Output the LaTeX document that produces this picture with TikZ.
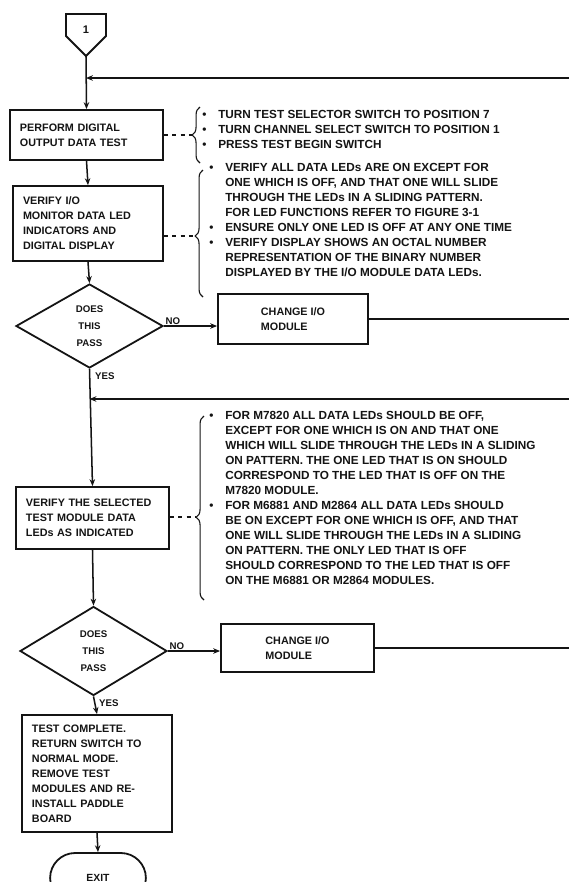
\documentclass[tikz,border=0pt]{standalone}
\usepackage{fontspec}
\setmainfont{Liberation Sans}
\usepackage{tikz}
\usetikzlibrary{arrows.meta,shapes.geometric,shapes.misc,decorations.pathreplacing,calc}
\definecolor{inkBlack}{RGB}{20,20,20}
\newcommand{\pxl}{0.0254cm}
\newcommand{\bul}{\leavevmode\llap{\textbullet\hspace{0.3cm}}}

\begin{document}
\begin{tikzpicture}[x=0.0254cm, y=-0.0254cm, text=inkBlack,
  flow/.style={draw=inkBlack, line width=1.1pt},
  entry/.style={flow, -{Stealth[length=5pt,width=4pt]}},
  procbox/.style={draw=inkBlack, line width=1.3pt, align=left, inner xsep=10*\pxl, inner ysep=0pt, font=\fontsize{7.8}{10.8}\selectfont\bfseries},
  chgbox/.style={draw=inkBlack, line width=1.3pt, align=left, minimum height=50*\pxl, font=\fontsize{7.8}{10.8}\selectfont\bfseries},
  decision/.style={draw=inkBlack, diamond, line width=1.3pt, inner sep=0pt, minimum width=147*\pxl, align=center, font=\fontsize{7}{12.5}\selectfont\bfseries},
  terminal/.style={draw=inkBlack, rounded rectangle, line width=1.3pt, minimum width=105*\pxl, minimum height=50*\pxl, font=\fontsize{7.5}{9}\selectfont\bfseries},
  notes/.style={anchor=north west, inner sep=0pt, align=left, font=\fontsize{8.5}{10.8}\selectfont\bfseries},
  bracket/.style={draw=inkBlack, line width=0.8pt, decorate, decoration={brace, amplitude=0.2cm}},
  answer/.style={inner sep=1pt, font=\fontsize{7}{8}\selectfont\bfseries}]
\useasboundingbox (0,0) rectangle (569,882);

\draw[flow, line width=1.3pt] (66,14) -- (106,14) -- (106,36) -- (86,56) -- (66,36) -- cycle;
\node[font=\fontsize{8}{9}\selectfont\bfseries] (conn) at (86,30) {1};
\coordinate (conntip) at (86,56);
\coordinate (ret1) at (569,78);

\node[procbox, text width=133*\pxl, minimum height=50*\pxl] (perform) at (86.5,135) {PERFORM DIGITAL\\OUTPUT DATA TEST};
\node[procbox, text width=130*\pxl, minimum height=75*\pxl] (verifyio) at (88,223.5) {VERIFY I/O\\MONITOR DATA LED\\INDICATORS AND\\DIGITAL DISPLAY};
\node[decision, minimum height=84*\pxl] (pass1) at (89.5,326) {DOES\\THIS\\PASS};
\node[chgbox, minimum width=150*\pxl] (change1) at (293,319) {CHANGE I/O\\MODULE};
\coordinate (out1) at (569,319);
\coordinate (ret2) at (569,399);
\node[procbox, text width=133*\pxl, minimum height=62*\pxl] (verifytm) at (92.5,518) {VERIFY THE SELECTED\\TEST MODULE DATA\\LEDs AS INDICATED};
\node[decision, minimum height=89*\pxl] (pass2) at (93.5,651) {DOES\\THIS\\PASS};
\node[chgbox, minimum width=153*\pxl, minimum height=48*\pxl] (change2) at (297.5,648) {CHANGE I/O\\MODULE};
\coordinate (out2) at (569,648);
\node[procbox, text width=130*\pxl, minimum height=117*\pxl] (complete) at (97,773.5) {TEST COMPLETE.\\RETURN SWITCH TO\\NORMAL MODE.\\REMOVE TEST\\MODULES AND RE-\\INSTALL PADDLE\\BOARD};
\node[terminal] (exit) at (98,878) {EXIT};

\draw[entry] (ret1) -- (ret1 -| conntip);
\draw[entry] (conntip) -- (perform.north);
\draw[entry] (perform.south) -- (verifyio.north);
\draw[entry] (verifyio.south) -- (pass1.north);
\draw[entry] (pass1.east) -- (pass1.east -| change1.west);
\draw[flow] (change1.east) -- (out1);
\draw[entry] (ret2) -- (ret2 -| pass1.south);
\draw[entry] (pass1.south) -- (verifytm.north);
\draw[entry] (verifytm.south) -- (pass2.north);
\draw[entry] (pass2.east) -- (pass2.east -| change2.west);
\draw[flow] (change2.east) -- (out2);
\draw[entry] (pass2.south) -- (complete.north);
\draw[entry] (complete.south) -- (exit.north);

\node[answer, anchor=south west] (no1) at (pass1.east) {NO};
\node[answer, anchor=north west] (yes1) at ($(pass1.south)+(4,2)$) {YES};
\node[answer, anchor=south west] (no2) at (pass2.east) {NO};
\node[answer, anchor=north west] (yes2) at ($(pass2.south)+(4,2)$) {YES};

\draw[bracket] (200,163) -- (200,107);
\coordinate (tip1) at (192,135);
\draw[flow, dashed] (tip1 -| perform.east) -- (tip1);
\node[notes] (steps) at (218,110.5) {\bul TURN TEST SELECTOR SWITCH TO POSITION 7\\
\bul TURN CHANNEL SELECT SWITCH TO POSITION 1\\
\bul PRESS TEST BEGIN SWITCH};

\draw[bracket, decoration={aspect=0.48}] (203,297) -- (203,170);
\coordinate (tip2) at (195,236);
\draw[flow, dashed] (tip2 -| verifyio.east) -- (tip2);
\node[notes] (checks) at (225,163.5) {\bul VERIFY ALL DATA LEDs ARE ON EXCEPT FOR\\
ONE WHICH IS OFF, AND THAT ONE WILL SLIDE\\
THROUGH THE LEDs IN A SLIDING PATTERN.\\
FOR LED FUNCTIONS REFER TO FIGURE 3-1\\
\bul ENSURE ONLY ONE LED IS OFF AT ANY ONE TIME\\
\bul VERIFY DISPLAY SHOWS AN OCTAL NUMBER\\
REPRESENTATION OF THE BINARY NUMBER\\
DISPLAYED BY THE I/O MODULE DATA LEDs.};

\draw[bracket, decoration={aspect=0.45}] (204,600) -- (204,416);
\coordinate (tip3) at (196,517);
\draw[flow, dashed] (tip3 -| verifytm.east) -- (tip3);
\node[notes] (modules) at (225,411.5) {\bul FOR M7820 ALL DATA LEDs SHOULD BE OFF,\\
EXCEPT FOR ONE WHICH IS ON AND THAT ONE\\
WHICH WILL SLIDE THROUGH THE LEDs IN A SLIDING\\
ON PATTERN. THE ONE LED THAT IS ON SHOULD\\
CORRESPOND TO THE LED THAT IS OFF ON THE\\
M7820 MODULE.\\
\bul FOR M6881 AND M2864 ALL DATA LEDs SHOULD\\
BE ON EXCEPT FOR ONE WHICH IS OFF, AND THAT\\
ONE WILL SLIDE THROUGH THE LEDs IN A SLIDING\\
ON PATTERN. THE ONLY LED THAT IS OFF\\
SHOULD CORRESPOND TO THE LED THAT IS OFF\\
ON THE M6881 OR M2864 MODULES.};
\end{tikzpicture}
\end{document}
